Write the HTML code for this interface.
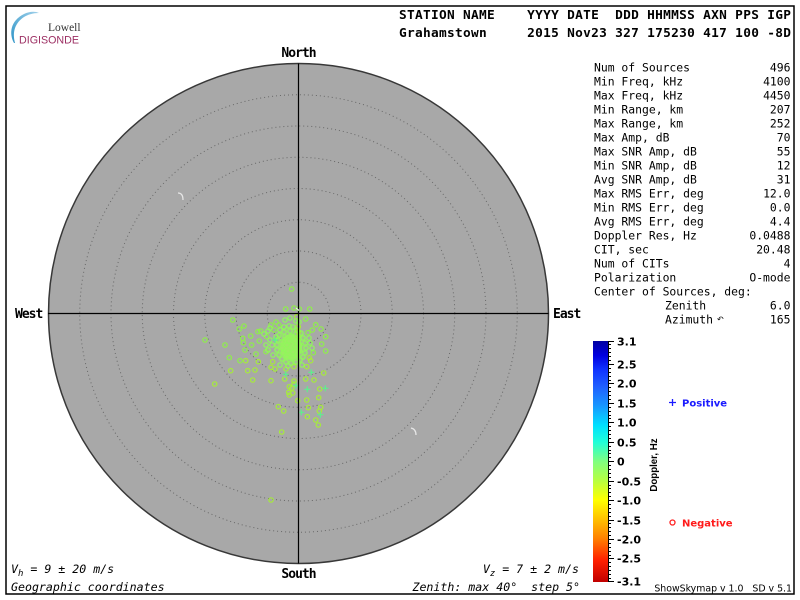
<!DOCTYPE html>
<html>
<head>
<meta charset="utf-8">
<style>
html,body{margin:0;padding:0;background:#fff;}
svg{display:block;}
.mono{font-family:"DejaVu Sans Mono","Liberation Mono",monospace;}
.pre{white-space:pre;}
</style>
</head>
<body>
<svg width="800" height="600" viewBox="0 0 800 600" xmlns="http://www.w3.org/2000/svg" xml:space="preserve">
<defs>
<linearGradient id="cb" x1="0" y1="0" x2="0" y2="1">
<stop offset="0" stop-color="#0000a0"/>
<stop offset="0.06" stop-color="#0000e0"/>
<stop offset="0.12" stop-color="#1034ff"/>
<stop offset="0.19" stop-color="#2060ff"/>
<stop offset="0.27" stop-color="#1898ff"/>
<stop offset="0.35" stop-color="#00e0ff"/>
<stop offset="0.42" stop-color="#20ffd8"/>
<stop offset="0.50" stop-color="#80ff80"/>
<stop offset="0.58" stop-color="#b8ff40"/>
<stop offset="0.66" stop-color="#ffff00"/>
<stop offset="0.74" stop-color="#ffc000"/>
<stop offset="0.82" stop-color="#ff8000"/>
<stop offset="0.91" stop-color="#ff2000"/>
<stop offset="1" stop-color="#c00000"/>
</linearGradient>
<linearGradient id="arcg" x1="0" y1="1" x2="1" y2="0">
<stop offset="0" stop-color="#2f95c8"/>
<stop offset="1" stop-color="#9fd0ea"/>
</linearGradient>
</defs>

<!-- frame -->
<rect x="6" y="6" width="788" height="588" fill="#fff" stroke="#000" stroke-width="1.5"/>

<!-- logo -->
<path d="M14,43 C9,34 10,21 24,14 C29,11.5 35,11 39,13 C33,13 28,14.5 24,17 C15,23 12,32 15,43 Z" fill="url(#arcg)"/>
<text x="48" y="31" font-family="Liberation Serif,serif" font-size="11.5" fill="#333">Lowell</text>
<text x="19" y="43.5" font-family="Liberation Sans,sans-serif" font-size="10.7" fill="#9c2f63">DIGISONDE</text>

<!-- header -->
<text class="mono pre" x="399" y="19" font-size="12.8" font-weight="bold" letter-spacing="0.3">STATION NAME    YYYY DATE  DDD HHMMSS AXN PPS IGP</text>
<text class="mono pre" x="399" y="37" font-size="12.8" font-weight="bold" letter-spacing="0.3">Grahamstown     2015 Nov23 327 175230 417 100 -8D</text>

<!-- skymap -->
<circle cx="298.5" cy="313.5" r="250" fill="#a8a8a8" stroke="#383838" stroke-width="1.5"/>
<g fill="none" stroke="#686868" stroke-width="1" stroke-dasharray="1 3">
<circle cx="298.5" cy="313.5" r="31.25"/>
<circle cx="298.5" cy="313.5" r="62.5"/>
<circle cx="298.5" cy="313.5" r="93.75"/>
<circle cx="298.5" cy="313.5" r="125"/>
<circle cx="298.5" cy="313.5" r="156.25"/>
<circle cx="298.5" cy="313.5" r="187.5"/>
<circle cx="298.5" cy="313.5" r="218.75"/>
</g>

<!-- hooks -->
<path d="M178,193 q5,0 5,7" fill="none" stroke="#e6e6e6" stroke-width="1.3"/>
<path d="M411,428 q5,1 5,7" fill="none" stroke="#e6e6e6" stroke-width="1.3"/>

<!-- dense blob -->
<ellipse cx="291" cy="346" rx="17" ry="20" fill="#98f35a" opacity="0.35"/>
<ellipse cx="291" cy="347" rx="11" ry="13" fill="#9af55c" opacity="0.85"/>

<!-- circles -->
<g fill="none" stroke-width="1.2">
<g stroke="#8ef048">
<circle cx="291.7" cy="289" r="2.2"/><circle cx="285.7" cy="309" r="2.2"/><circle cx="294" cy="308" r="2.2"/>
<circle cx="299.3" cy="309" r="2.2"/><circle cx="309.7" cy="309" r="2.2"/><circle cx="305.7" cy="319" r="2.2"/>
<circle cx="232.7" cy="320" r="2.2"/><circle cx="244" cy="326" r="2.2"/><circle cx="239.3" cy="329" r="2.2"/>
<circle cx="271" cy="325" r="2.2"/><circle cx="276" cy="322" r="2.2"/><circle cx="279" cy="325" r="2.2"/>
<circle cx="274" cy="330" r="2.2"/><circle cx="315.7" cy="324.7" r="2.2"/><circle cx="321" cy="329" r="2.2"/>
<circle cx="308" cy="332.7" r="2.2"/><circle cx="312.3" cy="330" r="2.2"/><circle cx="250.7" cy="336" r="2.2"/>
<circle cx="258" cy="331.7" r="2.2"/><circle cx="260.7" cy="331" r="2.2"/><circle cx="266.7" cy="336.7" r="2.2"/>
<circle cx="242.7" cy="338.3" r="2.2"/><circle cx="325.7" cy="336.7" r="2.2"/><circle cx="205" cy="340" r="2.2"/>
<circle cx="243.3" cy="342.7" r="2.2"/><circle cx="259.3" cy="341" r="2.2"/><circle cx="251.7" cy="345" r="2.2"/>
<circle cx="225" cy="345" r="2.2"/><circle cx="321.7" cy="344" r="2.2"/><circle cx="245" cy="350" r="2.2"/>
<circle cx="325.7" cy="351" r="2.2"/><circle cx="266" cy="351.7" r="2.2"/><circle cx="313.3" cy="352.7" r="2.2"/>
<circle cx="256" cy="354" r="2.2"/><circle cx="229.3" cy="357.7" r="2.2"/><circle cx="240" cy="360.7" r="2.2"/>
</g>
<g stroke="#a6ec3a">
<circle cx="245.7" cy="360.7" r="2.2"/><circle cx="258.3" cy="361.7" r="2.2"/><circle cx="309.3" cy="357.7" r="2.2"/>
<circle cx="310.7" cy="360.7" r="2.2"/><circle cx="272.7" cy="361.7" r="2.2"/><circle cx="306.7" cy="366.7" r="2.2"/>
<circle cx="271" cy="367.3" r="2.2"/><circle cx="275" cy="369" r="2.2"/><circle cx="230.7" cy="370.7" r="2.2"/>
<circle cx="247.7" cy="370.7" r="2.2"/><circle cx="255" cy="370" r="2.2"/><circle cx="286" cy="369" r="2.2"/>
<circle cx="294" cy="366.7" r="2.2"/><circle cx="323.7" cy="373" r="2.2"/><circle cx="252.7" cy="380" r="2.2"/>
<circle cx="271" cy="380.7" r="2.2"/><circle cx="284.7" cy="379" r="2.2"/><circle cx="305.7" cy="379" r="2.2"/>
<circle cx="314" cy="380" r="2.2"/><circle cx="294" cy="381" r="2.2"/><circle cx="294" cy="384" r="2.2"/>
<circle cx="214.7" cy="384" r="2.2"/><circle cx="289.3" cy="386.7" r="2.2"/><circle cx="291.7" cy="388" r="2.2"/>
<circle cx="319.7" cy="389" r="2.2"/><circle cx="288.7" cy="392.3" r="2.2"/><circle cx="289.3" cy="395" r="2.2"/>
<circle cx="292.7" cy="393" r="2.2"/><circle cx="318.7" cy="397.7" r="2.2"/><circle cx="306.7" cy="400" r="2.2"/>
<circle cx="297.7" cy="400.7" r="2.2"/><circle cx="278.3" cy="406.7" r="2.2"/><circle cx="308.3" cy="407.7" r="2.2"/>
<circle cx="320.7" cy="407.3" r="2.2"/><circle cx="283.7" cy="411" r="2.2"/><circle cx="319.3" cy="411" r="2.2"/>
<circle cx="307.3" cy="416.7" r="2.2"/><circle cx="315.7" cy="420" r="2.2"/><circle cx="318.3" cy="425" r="2.2"/>
<circle cx="281.7" cy="432" r="2.2"/><circle cx="271" cy="500" r="2.2"/>
<circle cx="296.7" cy="316.7" r="2.2"/><circle cx="298.3" cy="326.7" r="2.2"/><circle cx="298.3" cy="331.7" r="2.2"/><circle cx="298.3" cy="336.7" r="2.2"/>
</g>
<g stroke="#90f85a">
<circle cx="280" cy="330" r="2.2"/><circle cx="284" cy="327" r="2.2"/><circle cx="289" cy="326" r="2.2"/><circle cx="293" cy="327" r="2.2"/>
<circle cx="297" cy="330" r="2.2"/><circle cx="301" cy="333" r="2.2"/><circle cx="303" cy="338" r="2.2"/><circle cx="305" cy="343" r="2.2"/>
<circle cx="306" cy="348" r="2.2"/><circle cx="305" cy="353" r="2.2"/><circle cx="303" cy="357" r="2.2"/><circle cx="300" cy="360" r="2.2"/>
<circle cx="296" cy="362" r="2.2"/><circle cx="291" cy="363" r="2.2"/><circle cx="286" cy="362" r="2.2"/><circle cx="282" cy="359" r="2.2"/>
<circle cx="279" cy="355" r="2.2"/><circle cx="277" cy="350" r="2.2"/><circle cx="277" cy="345" r="2.2"/><circle cx="278" cy="340" r="2.2"/>
<circle cx="279" cy="335" r="2.2"/><circle cx="284" cy="332" r="2.2"/><circle cx="290" cy="331" r="2.2"/><circle cx="296" cy="334" r="2.2"/>
<circle cx="299" cy="339" r="2.2"/><circle cx="300" cy="345" r="2.2"/><circle cx="300" cy="351" r="2.2"/><circle cx="297" cy="356" r="2.2"/>
<circle cx="292" cy="358" r="2.2"/><circle cx="287" cy="357" r="2.2"/><circle cx="283" cy="353" r="2.2"/><circle cx="282" cy="348" r="2.2"/>
<circle cx="282" cy="342" r="2.2"/><circle cx="285" cy="337" r="2.2"/><circle cx="291" cy="336" r="2.2"/><circle cx="295" cy="341" r="2.2"/>
<circle cx="295" cy="347" r="2.2"/><circle cx="293" cy="352" r="2.2"/><circle cx="288" cy="351" r="2.2"/><circle cx="287" cy="345" r="2.2"/>
<circle cx="289" cy="341" r="2.2"/><circle cx="270" cy="340" r="2.2"/><circle cx="272" cy="345" r="2.2"/><circle cx="268" cy="350" r="2.2"/>
<circle cx="273" cy="355" r="2.2"/><circle cx="276" cy="337" r="2.2"/><circle cx="310" cy="343" r="2.2"/><circle cx="309" cy="338" r="2.2"/>
<circle cx="312" cy="348" r="2.2"/><circle cx="266" cy="345" r="2.2"/><circle cx="285" cy="320" r="2.2"/><circle cx="290" cy="318" r="2.2"/>
<circle cx="296" cy="321" r="2.2"/><circle cx="299" cy="322" r="2.2"/><circle cx="280" cy="365" r="2.2"/><circle cx="288" cy="366" r="2.2"/>
<circle cx="302" cy="365" r="2.2"/><circle cx="264" cy="334" r="2.2"/><circle cx="268" cy="331" r="2.2"/><circle cx="270" cy="328" r="2.2"/>
</g>
</g>
<!-- crosses -->
<path d="M308.3,372.3h6M311.3,369.3v6 M282.7,374.3h6M285.7,371.3v6 M293,385.7h6M296,382.7v6 M304.3,389.3h6M307.3,386.3v6 M322.3,388.3h6M325.3,385.3v6 M298.3,412.3h6M301.3,409.3v6 M317.3,414.7h6M320.3,411.7v6 M272,340h6M275,337v6" fill="none" stroke="#5cf08c" stroke-width="1.2"/>

<!-- axes -->
<line x1="48" y1="313.5" x2="548.5" y2="313.5" stroke="#000" stroke-width="1.2"/>
<line x1="298.5" y1="63.5" x2="298.5" y2="563.5" stroke="#000" stroke-width="1.2"/>
<path d="M296,308 l3,2.5" stroke="#e6e6e6" stroke-width="1.2" fill="none"/>

<!-- compass labels -->
<g class="mono" font-size="13" font-weight="bold" letter-spacing="-1">
<text x="298.5" y="57" text-anchor="middle">North</text>
<text x="298.5" y="578" text-anchor="middle">South</text>
<text x="15" y="318">West</text>
<text x="553" y="318">East</text>
</g>

<!-- bottom texts -->
<g class="mono" font-size="11.6" font-style="italic">
<text x="11" y="573">V<tspan font-size="9" dy="3">h</tspan><tspan dy="-3" class="pre"> = 9 ± 20 m/s</tspan></text>
<text x="11" y="591">Geographic coordinates</text>
<text x="579" y="573" text-anchor="end">V<tspan font-size="9" dy="3">z</tspan><tspan dy="-3" class="pre"> = 7 ± 2 m/s</tspan></text>
<text x="580" y="591" text-anchor="end" class="pre">Zenith: max 40°  step 5°</text>
</g>

<!-- stats -->
<g class="mono" font-size="11.4">
<text x="594" y="71.5">Num of Sources</text><text x="790.5" y="71.5" text-anchor="end">496</text>
<text x="594" y="85.5">Min Freq, kHz</text><text x="790.5" y="85.5" text-anchor="end">4100</text>
<text x="594" y="99.5">Max Freq, kHz</text><text x="790.5" y="99.5" text-anchor="end">4450</text>
<text x="594" y="113.5">Min Range, km</text><text x="790.5" y="113.5" text-anchor="end">207</text>
<text x="594" y="127.5">Max Range, km</text><text x="790.5" y="127.5" text-anchor="end">252</text>
<text x="594" y="141.5">Max Amp, dB</text><text x="790.5" y="141.5" text-anchor="end">70</text>
<text x="594" y="155.5">Max SNR Amp, dB</text><text x="790.5" y="155.5" text-anchor="end">55</text>
<text x="594" y="169.5">Min SNR Amp, dB</text><text x="790.5" y="169.5" text-anchor="end">12</text>
<text x="594" y="183.5">Avg SNR Amp, dB</text><text x="790.5" y="183.5" text-anchor="end">31</text>
<text x="594" y="197.5">Max RMS Err, deg</text><text x="790.5" y="197.5" text-anchor="end">12.0</text>
<text x="594" y="211.5">Min RMS Err, deg</text><text x="790.5" y="211.5" text-anchor="end">0.0</text>
<text x="594" y="225.5">Avg RMS Err, deg</text><text x="790.5" y="225.5" text-anchor="end">4.4</text>
<text x="594" y="239.5">Doppler Res, Hz</text><text x="790.5" y="239.5" text-anchor="end">0.0488</text>
<text x="594" y="253.5">CIT, sec</text><text x="790.5" y="253.5" text-anchor="end">20.48</text>
<text x="594" y="267.5">Num of CITs</text><text x="790.5" y="267.5" text-anchor="end">4</text>
<text x="594" y="281.5">Polarization</text><text x="790.5" y="281.5" text-anchor="end">O-mode</text>
<text x="594" y="295.5">Center of Sources, deg:</text>
<text x="665" y="309.5">Zenith</text><text x="790.5" y="309.5" text-anchor="end">6.0</text>
<text x="665" y="323.5">Azimuth</text><text x="790.5" y="323.5" text-anchor="end">165</text>
</g>
<text x="717" y="322" font-family="DejaVu Sans,sans-serif" font-size="8">↶</text>

<!-- colorbar -->
<rect x="593" y="341" width="15" height="241" fill="url(#cb)"/>
<line x1="608.5" y1="341" x2="608.5" y2="582" stroke="#000" stroke-width="1"/>
<path d="M608,344.5h3M608,348.5h3M608,352.5h3M608,356.5h3M608,360.5h3M608,368.5h3M608,372.5h3M608,376.5h3M608,380.5h3M608,387.5h3M608,391.5h3M608,395.5h3M608,399.5h3M608,407.5h3M608,411.5h3M608,415.5h3M608,418.5h3M608,426.5h3M608,430.5h3M608,434.5h3M608,438.5h3M608,446.5h3M608,450.5h3M608,453.5h3M608,457.5h3M608,465.5h3M608,469.5h3M608,473.5h3M608,477.5h3M608,485.5h3M608,488.5h3M608,492.5h3M608,496.5h3M608,504.5h3M608,508.5h3M608,512.5h3M608,516.5h3M608,523.5h3M608,527.5h3M608,531.5h3M608,535.5h3M608,543.5h3M608,547.5h3M608,551.5h3M608,555.5h3M608,562.5h3M608,566.5h3M608,570.5h3M608,574.5h3M608,578.5h3" stroke="#000" stroke-width="1" fill="none"/>
<path d="M608,341.5h6M608,364.5h6M608,383.5h6M608,403.5h6M608,422.5h6M608,442.5h6M608,461.5h6M608,481.5h6M608,500.5h6M608,520.5h6M608,539.5h6M608,558.5h6M608,581.5h6" stroke="#000" stroke-width="1" fill="none"/>
<g font-family="DejaVu Sans,sans-serif" font-size="11" font-weight="bold">
<text x="617" y="345.5">3.1</text>
<text x="617" y="368.5">2.5</text>
<text x="617" y="387.5">2.0</text>
<text x="617" y="407.5">1.5</text>
<text x="617" y="426.5">1.0</text>
<text x="617" y="446.5">0.5</text>
<text x="617" y="465.5">0</text>
<text x="617" y="485.5">-0.5</text>
<text x="617" y="504.5">-1.0</text>
<text x="617" y="524.5">-1.5</text>
<text x="617" y="543.5">-2.0</text>
<text x="617" y="562.5">-2.5</text>
<text x="617" y="585.5">-3.1</text>
</g>
<text transform="translate(657,465) rotate(-90)" text-anchor="middle" font-family="Liberation Sans,sans-serif" font-size="9.7" font-weight="bold">Doppler, Hz</text>

<!-- legend -->
<path d="M669,402.5h7M672.5,399v7" stroke="#1a1aff" stroke-width="1.3" fill="none"/>
<text x="682" y="406.5" font-family="DejaVu Sans,sans-serif" font-size="10" font-weight="bold" fill="#1a1aff">Positive</text>
<circle cx="672.5" cy="522.5" r="2.5" fill="none" stroke="#ff2020" stroke-width="1.3"/>
<text x="682" y="526.5" font-family="DejaVu Sans,sans-serif" font-size="10" font-weight="bold" fill="#ff1a1a">Negative</text>

<text x="792" y="591.5" text-anchor="end" font-family="DejaVu Sans,sans-serif" font-size="9.4" class="pre">ShowSkymap v 1.0   SD v 5.1</text>
</svg>
</body>
</html>
